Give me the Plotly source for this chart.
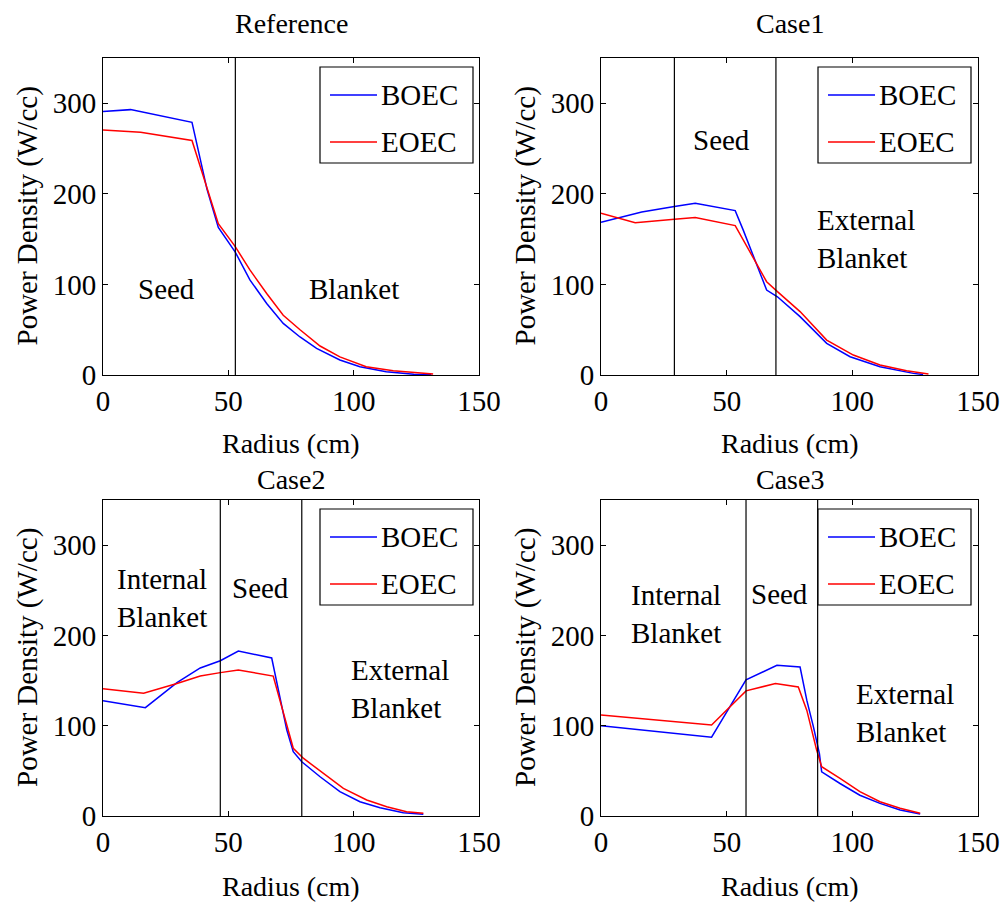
import plotly.graph_objects as go

# ---------------- data ----------------
titles = ["Reference", "Case1", "Case2", "Case3"]
series_names = ["BOEC", "EOEC"]

ref_x_boec = [0, 11, 35.5, 41.5, 46, 52.7, 58.6, 65.3, 71.9, 78.6, 85.2, 94.5, 102.5, 113, 124, 131]
ref_y_boec = [291, 293, 279, 205, 163, 136, 105, 79, 57, 42, 29.4, 16.6, 9.2, 3.7, 0.8, 0.5]
ref_x_eoec = [0, 15, 35.5, 41.5, 46, 52.7, 58.6, 65.3, 71.9, 78.6, 86.6, 94.5, 105, 115.8, 131.7]
ref_y_eoec = [270.6, 268, 259, 205, 167, 142, 116, 90, 66, 50, 32, 20, 9.2, 4.8, 1]

c1_x_boec = [0, 16.2, 29.2, 37.5, 53.4, 56.6, 65.9, 70.2, 79.2, 89.8, 99.1, 111, 124.3, 128.2]
c1_y_boec = [168.7, 180, 186, 189.6, 181.5, 160, 93.8, 86.4, 64.4, 35, 20.2, 9.2, 1.8, 0.5]
c1_x_eoec = [0, 13.6, 29.2, 37.5, 53.4, 65.9, 70.2, 79.2, 89.8, 100.4, 111, 121.6, 130.3]
c1_y_eoec = [178.6, 168, 172, 174, 165, 103, 92, 70, 38.6, 22, 11, 4.8, 1]

c2_x_boec = [0, 16.9, 29.5, 38.8, 46.8, 54, 67.3, 73.3, 75.9, 79.3, 86.6, 94.5, 102.5, 110.5, 119.8, 127.8]
c2_y_boec = [127.6, 120, 147.8, 164, 172, 182.6, 175, 95.5, 71.2, 60, 43.5, 27, 15.8, 9.2, 3.7, 1.8]
c2_x_eoec = [0, 16.2, 29.5, 38.8, 46.8, 54, 67.9, 73.3, 75.9, 79.9, 87.9, 95.9, 105.2, 113.2, 121.1, 127.8]
c2_y_eoec = [141, 136, 146.7, 155, 158.8, 161.7, 155, 99, 75, 64, 47, 30.6, 17.7, 10.3, 4.8, 3]

c3_x_boec = [0, 44, 57.7, 70, 79.2, 81.9, 84.5, 86.9, 87.8, 95.1, 103, 111, 119, 127]
c3_y_boec = [100, 87.3, 150.7, 167, 165, 128, 99, 69, 49, 36, 23, 14, 6.6, 2.2]
c3_x_eoec = [0, 44, 57.7, 69.4, 78.5, 81.9, 85.8, 87.8, 95.1, 103, 111, 119, 127]
c3_y_eoec = [111.8, 100.8, 138.6, 146.7, 143, 117, 73, 54.6, 41.7, 27, 15.8, 8.5, 3]

boundaries = [[52.8], [29.2, 69.6], [46.8, 79.3], [57.7, 86.2]]

# region labels: (text, x, y, xanchor)
region_labels = [
    [("Seed", 25.5, 95, "center"), ("Blanket", 100, 95, "center")],
    [("Seed", 48, 260, "center"), ("External<br>Blanket", 85.3, 150, "left")],
    [("Internal<br>Blanket", 4.9, 241, "left"), ("Seed", 50.8, 252, "left"),
     ("External<br>Blanket", 98, 141, "left")],
    [("Internal<br>Blanket", 11.3, 223.5, "left"), ("Seed", 59, 246, "left"),
     ("External<br>Blanket", 100.6, 114, "left")],
]

x_ticks = [0, 50, 100, 150]
y_ticks = [0, 100, 200, 300]
x_label = "Radius (cm)"
y_label = "Power Density (W/cc)"

series = [
    [(ref_x_boec, ref_y_boec), (ref_x_eoec, ref_y_eoec)],
    [(c1_x_boec, c1_y_boec), (c1_x_eoec, c1_y_eoec)],
    [(c2_x_boec, c2_y_boec), (c2_x_eoec, c2_y_eoec)],
    [(c3_x_boec, c3_y_boec), (c3_x_eoec, c3_y_eoec)],
]
colors = ["#0000ff", "#ff0000"]

# ---------------- layout ----------------
W, H = 1002, 903
FONT = "Liberation Serif, Times New Roman, serif"
FS = 29
FS_T = 28

# pixel boxes of each axes: (left, right, top, bottom)
boxes = [(103, 479, 58, 375), (601, 978, 58, 375),
         (103, 479, 500, 816), (601, 978, 500, 816)]

fig = go.Figure()
annotations = []
shapes = []

for i in range(4):
    l, r, t, b = boxes[i]
    xa = "xaxis" if i == 0 else f"xaxis{i+1}"
    ya = "yaxis" if i == 0 else f"yaxis{i+1}"
    xr = "x" if i == 0 else f"x{i+1}"
    yr = "y" if i == 0 else f"y{i+1}"
    axis_common = dict(showline=True, linecolor="black", linewidth=1, mirror="ticks",
                       ticks="inside", ticklen=5, tickcolor="black", showgrid=False,
                       zeroline=False, automargin=False,
                       tickfont=dict(family=FONT, size=FS, color="black"))
    fig.update_layout({
        xa: dict(domain=[l / W, r / W], range=[0, 150], tickvals=x_ticks, anchor=yr,
                 **axis_common),
        ya: dict(domain=[(H - b) / H, (H - t) / H], range=[0, 350], tickvals=y_ticks,
                 anchor=xr, **axis_common),
    })
    for j, (xs, ys) in enumerate(series[i]):
        fig.add_trace(go.Scatter(x=xs, y=ys, mode="lines", name=series_names[j],
                                 line=dict(color=colors[j], width=1.5),
                                 xaxis=xr, yaxis=yr, showlegend=False))
    for bx in boundaries[i]:
        shapes.append(dict(type="line", xref=xr, yref=f"{yr} domain", x0=bx, x1=bx,
                           y0=0, y1=1, line=dict(color="black", width=1.2)))
    for (txt, tx, ty, anc) in region_labels[i]:
        annotations.append(dict(text=txt, x=tx, y=ty, xref=xr, yref=yr, xanchor=anc,
                                yanchor="middle", align="left", showarrow=False,
                                font=dict(family=FONT, size=FS, color="black")))
    # legend box (drawn in axes-domain coordinates)
    bw = r - l
    bh = b - t
    lx0, lx1 = l + 217, l + 370
    ly0, ly1 = t + 9, t + 105
    shapes.append(dict(type="rect", xref=f"{xr} domain", yref=f"{yr} domain",
                       x0=(lx0 - l) / bw, x1=(lx1 - l) / bw,
                       y0=(b - ly1) / bh, y1=(b - ly0) / bh,
                       line=dict(color="black", width=1.2), fillcolor="white", layer="above"))
    for j, name in enumerate(series_names):
        yy = t + 37 + 47 * j
        shapes.append(dict(type="line", xref=f"{xr} domain", yref=f"{yr} domain",
                           x0=(l + 227 - l) / bw, x1=(l + 274 - l) / bw,
                           y0=(b - yy) / bh, y1=(b - yy) / bh,
                           line=dict(color=colors[j], width=1.5), layer="above"))
        annotations.append(dict(text=name, x=(l + 276 - l) / bw, y=(b - yy) / bh,
                                xref=f"{xr} domain", yref=f"{yr} domain",
                                xanchor="left", yanchor="middle", showarrow=False,
                                font=dict(family=FONT, size=FS, color="black")))
    # title
    ty_title = 24 if i < 2 else 480
    annotations.append(dict(text=titles[i], x=(l + r) / 2 / W, y=(H - ty_title) / H,
                            xref="paper", yref="paper", xanchor="center", yanchor="middle",
                            showarrow=False, font=dict(family=FONT, size=FS_T, color="black")))
    # x label
    ty_xl = 443 if i < 2 else 886
    annotations.append(dict(text=x_label, x=(l + r) / 2 / W, y=(H - ty_xl) / H,
                            xref="paper", yref="paper", xanchor="center", yanchor="middle",
                            showarrow=False, font=dict(family=FONT, size=FS_T, color="black")))
    # y label
    annotations.append(dict(text=y_label, x=(l - 76) / W, y=(H - (t + b) / 2) / H,
                            xref="paper", yref="paper", xanchor="center", yanchor="middle",
                            textangle=-90, showarrow=False,
                            font=dict(family=FONT, size=FS, color="black")))

fig.update_layout(width=W, height=H, margin=dict(l=0, r=0, t=0, b=0, autoexpand=False),
                  paper_bgcolor="white", plot_bgcolor="white",
                  annotations=annotations, shapes=shapes, showlegend=False,
                  font=dict(family=FONT, size=FS, color="black"))

fig.write_html("out.html",
               post_script="document.body.style.margin='0';document.body.style.padding='0';")
